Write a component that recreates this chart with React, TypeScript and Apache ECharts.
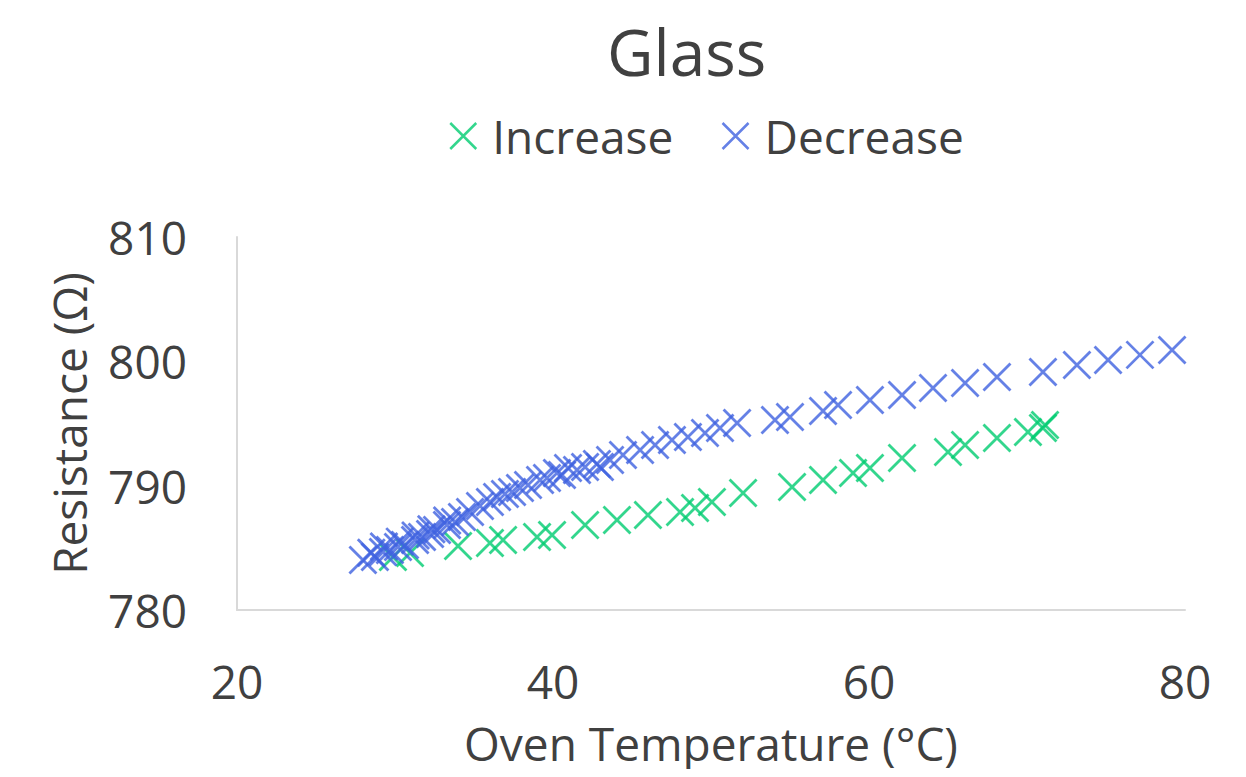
import React, { useEffect, useRef } from "react";
import * as echarts from "echarts";

const increaseX = [29.87, 30.95, 33.99, 36.01, 36.84, 38.99, 39.94, 42.03, 44.05, 46.01, 48.04, 48.99, 50.06, 52.03, 55.13, 57.09, 58.99, 60.06, 62.09, 65.0, 66.08, 68.1, 70.06, 71.01, 71.14];
const increaseY = [784.26, 784.59, 785.15, 785.39, 785.63, 785.87, 786.03, 786.84, 787.24, 787.64, 787.88, 788.21, 788.69, 789.41, 789.9, 790.46, 791.02, 791.42, 792.23, 792.71, 793.27, 793.84, 794.32, 794.64, 794.88];

const decreaseX = [27.97, 28.5, 28.73, 29.24, 29.3, 29.68, 30.19, 30.3, 30.63, 31.27, 31.3, 31.71, 32.22, 32.3, 32.66, 33.29, 33.3, 33.8, 34.24, 34.75, 35.38, 36.01, 36.46, 36.96, 37.41, 37.91, 38.42, 39.18, 39.62, 40.25, 40.57, 40.95, 41.52, 42.03, 42.78, 42.97, 43.61, 44.43, 45.51, 46.46, 47.53, 48.54, 49.62, 50.57, 51.65, 54.05, 55.0, 57.09, 58.04, 60.06, 62.09, 64.05, 66.08, 68.1, 71.01, 73.16, 75.13, 77.15, 79.18, 80.13];
const decreaseY = [784.02, 784.6, 784.26, 784.67, 785.1, 784.83, 785.07, 785.5, 785.23, 785.63, 786.0, 785.87, 786.11, 786.5, 786.44, 786.84, 787.2, 787.08, 787.48, 787.88, 788.37, 788.69, 789.09, 789.33, 789.49, 789.81, 790.06, 790.46, 790.62, 791.02, 790.86, 791.42, 791.26, 791.5, 791.75, 791.5, 792.07, 792.47, 792.87, 793.27, 793.68, 793.92, 794.24, 794.64, 795.04, 795.29, 795.53, 796.01, 796.49, 796.89, 797.3, 797.86, 798.26, 798.74, 799.15, 799.71, 800.11, 800.52, 800.92, 800.92];

const seriesNames = ["Increase", "Decrease"];
const seriesColors = ["#00CC70", "#3F62E0"];

const CROSS = "path://M0,0 L10,10 M10,0 L0,10";
const FONT = "'Open Sans', 'Noto Sans', sans-serif";
const TEXT = "#404040";

export default function App() {
  const ref = useRef<HTMLDivElement>(null);
  useEffect(() => {
    if (!ref.current) return;
    const chart = echarts.init(ref.current, undefined, { renderer: "svg" });
    const mk = (xs: number[], ys: number[]) => xs.map((x, i) => [x, ys[i]]);
    chart.setOption({
      animation: false,
      backgroundColor: "#ffffff",
      textStyle: { fontFamily: FONT, color: TEXT },
      title: {
        text: "Glass",
        left: 602,
        top: 14,
        textStyle: { fontFamily: FONT, fontSize: 64, fontWeight: "normal", color: TEXT },
      },
      legend: {
        top: 108,
        left: 444,
        itemGap: 48,
        itemWidth: 26,
        itemHeight: 26,
        textStyle: { fontFamily: FONT, fontSize: 46, color: TEXT, padding: [0, 0, 0, 11] },
        itemStyle: { borderWidth: 2.5 },
        data: seriesNames.map((n) => ({ name: n, icon: CROSS })),
      },
      grid: { left: 237, right: 61, top: 237, bottom: 167, containLabel: false },
      xAxis: {
        type: "value",
        min: 20,
        max: 80,
        interval: 20,
        name: "Oven Temperature (°C)",
        nameLocation: "middle",
        nameGap: 110,
        nameTextStyle: { fontFamily: FONT, fontSize: 46, color: TEXT },
        axisLine: { show: true, lineStyle: { color: "#d9d9d9", width: 2 } },
        axisTick: { show: false },
        splitLine: { show: false },
        axisLabel: { fontFamily: FONT, fontSize: 46, color: TEXT, margin: 48 },
      },
      yAxis: {
        type: "value",
        min: 780,
        max: 810,
        interval: 10,
        name: "Resistance (Ω)",
        nameLocation: "middle",
        nameGap: 145,
        nameTextStyle: { fontFamily: FONT, fontSize: 46, color: TEXT },
        axisLine: { show: true, lineStyle: { color: "#d9d9d9", width: 2 } },
        axisTick: { show: false },
        splitLine: { show: false },
        axisLabel: { fontFamily: FONT, fontSize: 46, color: TEXT, margin: 50 },
      },
      series: [
        { xs: increaseX, ys: increaseY },
        { xs: decreaseX, ys: decreaseY },
      ].map((s, i) => ({
        name: seriesNames[i],
        type: "scatter",
        symbol: CROSS,
        symbolSize: 27,
        data: mk(s.xs, s.ys),
        itemStyle: { color: "transparent", borderColor: seriesColors[i], borderWidth: 2.8 },
      })),
    });
    return () => chart.dispose();
  }, []);
  return <div ref={ref} style={{ width: 1246, height: 777, margin: -8 }} />;
}
